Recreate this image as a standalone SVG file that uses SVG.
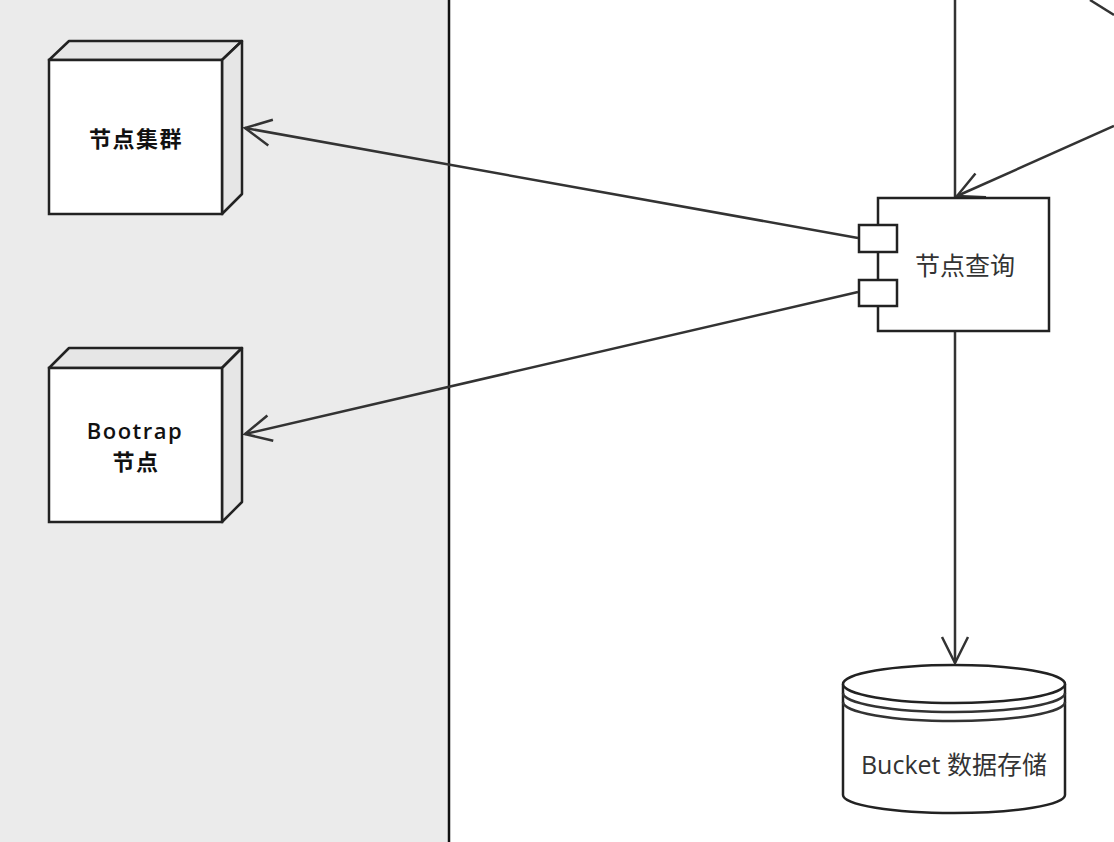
<svg xmlns="http://www.w3.org/2000/svg" width="1114" height="842" viewBox="0 0 1114 842">
<defs>
<style>
.node{fill:#ffffff;stroke:#222;stroke-width:2.5}
.side{fill:#e6e6e6;stroke:#222;stroke-width:2.5;stroke-linejoin:round}
.edge{fill:none;stroke:#333;stroke-width:2.5}
.bold{font-family:"Open Sans","Noto Sans CJK SC",sans-serif;font-size:22px;font-weight:600;letter-spacing:1.5px;fill:#111;text-anchor:middle}
.reg{font-family:"Open Sans","Noto Sans CJK SC",sans-serif;font-size:25px;fill:#333;text-anchor:middle}
</style>
<marker id="open" viewBox="0 0 30 30" refX="28" refY="15" markerWidth="30" markerHeight="30" markerUnits="userSpaceOnUse" orient="auto">
<path d="M2,2 L28,15 L2,28" fill="none" stroke="#333" stroke-width="2.5"/>
</marker>
</defs>
<rect x="0" y="0" width="449" height="842" fill="#ebebeb"/>
<line x1="449" y1="0" x2="449" y2="842" stroke="#111" stroke-width="2.5"/>
<g id="connectors">
<line class="edge" x1="955" y1="0" x2="955" y2="198"/>
<line class="edge" x1="1090" y1="0" x2="1114" y2="15"/>
<line class="edge" x1="1114" y1="126" x2="957" y2="196" marker-end="url(#open)"/>
<line class="edge" x1="858" y1="238" x2="245" y2="128" marker-end="url(#open)"/>
<line class="edge" x1="858" y1="292" x2="245" y2="434" marker-end="url(#open)"/>
<line class="edge" x1="955" y1="331" x2="955" y2="663" marker-end="url(#open)"/>
</g>
<g id="node-cluster">
<path class="side" d="M49,60 L69,41 L242,41 L222,60 Z"/>
<path class="side" d="M222,60 L242,41 L242,194 L222,214 Z"/>
<rect class="node" x="49" y="60" width="173" height="154"/>
<text class="bold" x="136" y="147">节点集群</text>
</g>
<g id="node-bootstrap">
<path class="side" d="M49,368 L69,348 L242,348 L222,368 Z"/>
<path class="side" d="M222,368 L242,348 L242,502 L222,522 Z"/>
<rect class="node" x="49" y="368" width="173" height="154"/>
<text class="bold" x="135" y="439">Bootrap</text>
<text class="bold" x="136" y="470">节点</text>
</g>
<g id="node-query">
<rect class="node" x="878" y="198" width="171" height="133"/>
<rect class="node" x="859" y="225" width="38" height="27"/>
<rect class="node" x="859" y="280" width="38" height="26"/>
<text class="reg" x="965" y="275">节点查询</text>
</g>
<g id="node-bucket">
<path class="node" d="M843,684 L843,795 A111,18 0 0 0 1065,795 L1065,684"/>
<ellipse class="node" cx="954" cy="684" rx="111" ry="19"/>
<path class="edge" d="M843,693 A111,19 0 0 0 1065,693"/>
<path class="edge" d="M843,702 A111,19 0 0 0 1065,702"/>
<text class="reg" x="954" y="774">Bucket 数据存储</text>
</g>
</svg>
